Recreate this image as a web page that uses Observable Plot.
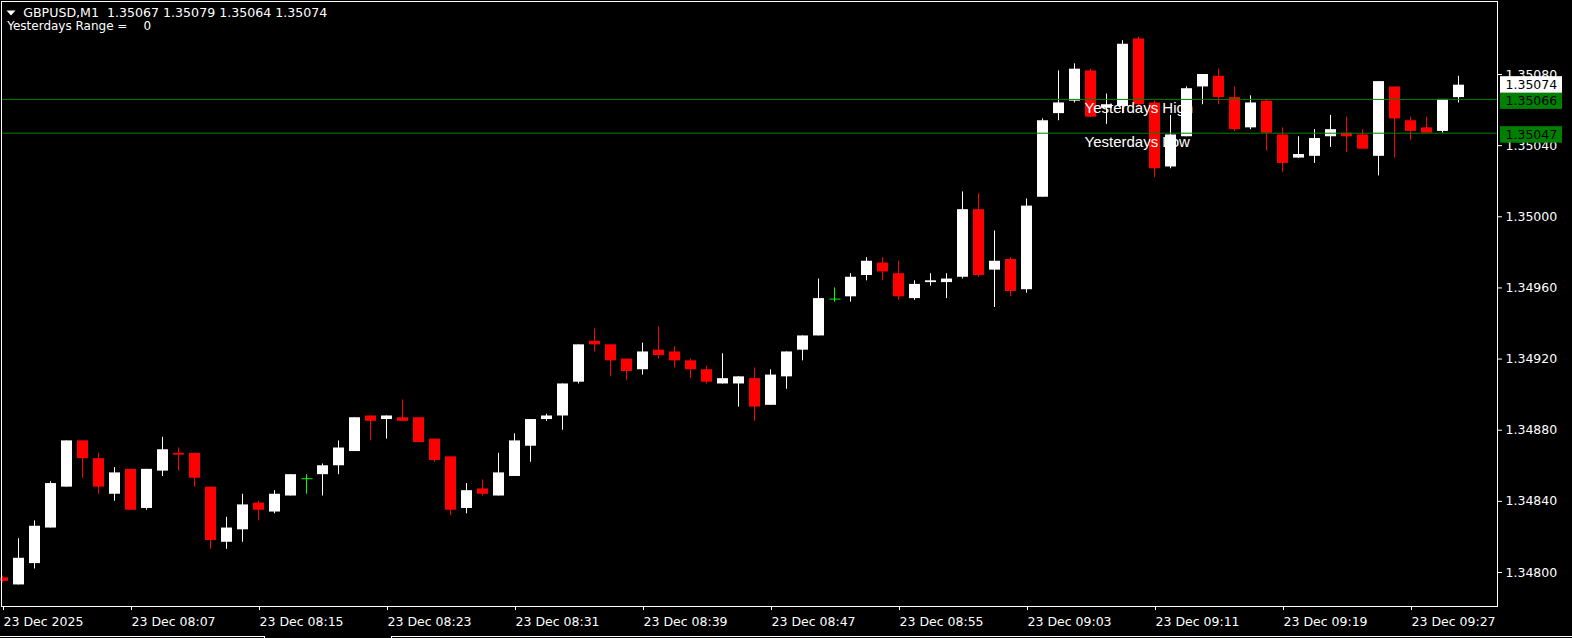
<!DOCTYPE html>
<html><head><meta charset="utf-8">
<script src="https://cdn.jsdelivr.net/npm/d3@7"></script>
<script src="https://cdn.jsdelivr.net/npm/@observablehq/plot@0.6"></script>
<style>
html,body{margin:0;padding:0;background:#000;}
#chart{position:relative;width:1572px;height:638px;background:#000;overflow:hidden;}
#chart svg{display:block;}
.tab{position:absolute;box-sizing:border-box;}
</style></head><body>
<div id="chart"></div>
<script>
// ---------- data ----------
const symbolName = "GBPUSD,M1";
const startTime = "2025-12-23T07:59:00Z"; // first M1 bar
const opens = [1.34797,1.34793,1.34805,1.34825,1.34848,1.34874,1.34864,1.34844,1.34858,1.34836,
1.34857,1.34867,1.34867,1.34848,1.34817,1.34824,1.34839,1.34834,1.34843,1.34853,
1.34855,1.34860,1.34868,1.34888,1.34886,1.34887,1.34887,1.34875,1.34865,1.34836,
1.34847,1.34843,1.34854,1.34871,1.34886,1.34888,1.34907,1.34930,1.34928,1.34920,
1.34914,1.34925,1.34924,1.34919,1.34914,1.34906,1.34906,1.34909,1.34894,1.34910,
1.34925,1.34933,1.34954,1.34955,1.34967,1.34974,1.34968,1.34954,1.34963,1.34963,
1.34966,1.35004,1.34970,1.34976,1.34959,1.35011,1.35058,1.35065,1.35082,1.35061,
1.35062,1.35100,1.35064,1.35028,1.35045,1.35073,1.35079,1.35067,1.35050,1.35065,
1.35046,1.35033,1.35034,1.35045,1.35047,1.35046,1.35034,1.35073,1.35054,1.35050,
1.35048,1.35067];
const highs = [1.34798,1.34819,1.34829,1.34851,1.34874,1.34874,1.34867,1.34859,1.34858,1.34858,
1.34876,1.34870,1.34867,1.34848,1.34831,1.34844,1.34840,1.34846,1.34855,1.34855,
1.34861,1.34874,1.34887,1.34888,1.34888,1.34897,1.34887,1.34875,1.34865,1.34850,
1.34852,1.34867,1.34878,1.34886,1.34889,1.34906,1.34928,1.34937,1.34928,1.34920,
1.34929,1.34938,1.34927,1.34920,1.34916,1.34923,1.34910,1.34915,1.34914,1.34924,
1.34933,1.34965,1.34960,1.34968,1.34977,1.34977,1.34975,1.34964,1.34968,1.34968,
1.35014,1.35013,1.34992,1.34977,1.35010,1.35055,1.35082,1.35086,1.35083,1.35069,
1.35099,1.35101,1.35065,1.35057,1.35073,1.35080,1.35083,1.35073,1.35068,1.35066,
1.35050,1.35045,1.35049,1.35057,1.35056,1.35049,1.35076,1.35073,1.35056,1.35056,
1.35066,1.35079];
const lows = [1.34794,1.34793,1.34802,1.34825,1.34848,1.34853,1.34844,1.34840,1.34835,1.34835,
1.34854,1.34857,1.34848,1.34813,1.34813,1.34817,1.34829,1.34833,1.34843,1.34844,
1.34843,1.34855,1.34868,1.34874,1.34875,1.34885,1.34873,1.34862,1.34832,1.34833,
1.34843,1.34843,1.34854,1.34862,1.34885,1.34880,1.34906,1.34924,1.34910,1.34908,
1.34911,1.34920,1.34915,1.34909,1.34906,1.34906,1.34893,1.34885,1.34894,1.34903,
1.34919,1.34933,1.34952,1.34952,1.34964,1.34964,1.34953,1.34953,1.34961,1.34954,
1.34965,1.34966,1.34949,1.34955,1.34957,1.35011,1.35054,1.35064,1.35056,1.35052,
1.35058,1.35061,1.35022,1.35027,1.35045,1.35063,1.35063,1.35048,1.35049,1.35037,
1.35025,1.35033,1.35030,1.35039,1.35036,1.35038,1.35023,1.35033,1.35043,1.35047,
1.35047,1.35064];
const closes = [1.34795,1.34808,1.34826,1.34850,1.34874,1.34864,1.34848,1.34856,1.34835,1.34858,
1.34869,1.34866,1.34853,1.34818,1.34825,1.34838,1.34835,1.34844,1.34855,1.34853,
1.34860,1.34870,1.34887,1.34885,1.34888,1.34885,1.34873,1.34863,1.34835,1.34846,
1.34844,1.34856,1.34874,1.34886,1.34888,1.34906,1.34928,1.34928,1.34919,1.34913,
1.34924,1.34922,1.34919,1.34914,1.34907,1.34909,1.34910,1.34893,1.34911,1.34924,
1.34933,1.34954,1.34954,1.34966,1.34975,1.34969,1.34955,1.34962,1.34964,1.34965,
1.35004,1.34967,1.34975,1.34958,1.35006,1.35054,1.35064,1.35083,1.35056,1.35063,
1.35097,1.35063,1.35027,1.35046,1.35072,1.35080,1.35067,1.35049,1.35064,1.35047,
1.35030,1.35035,1.35044,1.35049,1.35045,1.35038,1.35076,1.35055,1.35048,1.35047,
1.35066,1.35074];
const priceTicks = [1.34800,1.34840,1.34880,1.34920,1.34960,1.35000,1.35040,1.35080];
const timeTickBars = [0,8,16,24,32,40,48,56,64,72,80,88];
const yesterdayHigh = 1.35066;
const yesterdayLow = 1.35047;
const yesterdaysRange = 0;
const levelLabels = ["Yesterdays High","Yesterdays Low"];
const labelBar = 68;

// ---------- build ----------
const t0 = Date.parse(startTime);
const bars = opens.map((o, i) => ({
  i, date: new Date(t0 + i * 60000), open: o, high: highs[i], low: lows[i], close: closes[i]
}));
const colorOf = d => d.close > d.open ? "#ffffff" : d.close < d.open ? "#ff0000" : "#00ff00";
const bodies = bars.filter(d => d.open !== d.close);
const dojis = bars.filter(d => d.open === d.close);
const fmtTime = d3.utcFormat("%d %b %H:%M");
const tickDates = timeTickBars.map(i => bars[i].date);
const xFmt = d => (+d === +bars[0].date ? d3.utcFormat("%d %b %Y")(d) : fmtTime(d));

const hline = {draw(ctx) { ctx.moveTo(-5.5, 0); ctx.lineTo(5.5, 0); }};
const tri = {draw(ctx) { ctx.moveTo(-4.5, -2.5); ctx.lineTo(4.5, -2.5); ctx.lineTo(0, 2.5); ctx.closePath(); }};

const W = 1572, H = 632;
const AXIS_FS = 12.5;
const ohlcTitle = `${symbolName}  ${[opens.at(-1), highs.at(-1), lows.at(-1), closes.at(-1)].map(d3.format(".5f")).join(" ")}`;

const plot = Plot.plot({
  width: W, height: H,
  marginLeft: 1, marginTop: 1, marginRight: 75, marginBottom: 26,
  style: {background: "#000", color: "#fff", fontFamily: "DejaVu Sans", fontSize: "12px"},
  color: {type: "identity"},
  x: {type: "utc", domain: [bars[0].date, bars[bars.length - 1].date], range: [2, 2 + 16 * (bars.length - 1)]},
  y: {domain: [priceTicks[0], priceTicks[priceTicks.length - 1]], range: [572, 74]},
  marks: [
    Plot.axisY(priceTicks, {anchor: "right", tickSize: 4, tickPadding: 4, textAnchor: "start",
      tickFormat: d3.format(".5f"), stroke: "#fff", fill: "#fff", fontSize: AXIS_FS, label: null}),
    Plot.axisX(tickDates, {anchor: "bottom", tickSize: 4, tickPadding: 6.5, textAnchor: "start", dx: 1,
      tickFormat: xFmt, stroke: "#fff", fill: "#fff", fontSize: AXIS_FS, label: null}),
    Plot.ruleX(bars, {x: "date", y1: "low", y2: "high", stroke: colorOf}),
    Plot.ruleX(bodies, {x: "date", y1: "open", y2: "close", stroke: colorOf, strokeWidth: 11}),
    Plot.dot(dojis, {x: "date", y: "open", symbol: hline, stroke: "#00ff00", fill: "none", strokeWidth: 1, dx: 0.5, dy: 0.5}),
    Plot.ruleY([yesterdayHigh, yesterdayLow], {stroke: "#008000", strokeWidth: 1}),
    Plot.text([yesterdayHigh, yesterdayLow], {x: bars[labelBar].date, y: d => d, text: (d, i) => levelLabels[i],
      textAnchor: "start", lineAnchor: "top", dx: -6, dy: 3, fill: "#fff", fontFamily: "Liberation Sans", fontSize: 15}),
    Plot.dot([0], {frameAnchor: "top-left", dx: 9.5, dy: 11.5, symbol: tri, fill: "#fff", stroke: "none"}),
    Plot.text([ohlcTitle], {frameAnchor: "top-left", dx: 21.7, dy: 7, text: d => d, textAnchor: "start", lineAnchor: "top", fill: "#fff", fontSize: 12.6}),
    Plot.text(["Yesterdays Range ="], {frameAnchor: "top-left", dx: 5.7, dy: 19.8, text: d => d, textAnchor: "start", lineAnchor: "top", fill: "#fff", fontSize: 12}),
    Plot.text([String(yesterdaysRange)], {frameAnchor: "top-left", dx: 142, dy: 19.8, text: d => d, textAnchor: "start", lineAnchor: "top", fill: "#fff", fontSize: 12}),
    Plot.frame({stroke: "#fff"})
  ]
});

// price tags on the right-hand scale
const ys = plot.scale("y");
const svg = d3.select(plot);
const tags = [
  {v: yesterdayHigh, fill: "#008000", shift: 1.5},
  {v: yesterdayLow, fill: "#008000", shift: 1.5},
  {v: closes[closes.length - 1], fill: "#ffffff", shift: -0.5}
];
const g = svg.append("g").attr("text-anchor", "start");
for (const t of tags) {
  const cy = ys.apply(t.v) + t.shift;
  g.append("rect").attr("x", 1500).attr("y", cy - 8).attr("width", 62).attr("height", 16.5).attr("fill", t.fill);
  g.append("text").attr("x", 1505.5).attr("y", cy).attr("dy", "0.36em").attr("fill", "#000")
    .attr("text-anchor", "start").attr("font-family", "DejaVu Sans").attr("font-size", AXIS_FS)
    .text(d3.format(".5f")(t.v));
}

const chart = document.getElementById("chart");
chart.appendChild(plot);
// tab strip under the chart
const strip = [
  {left: 0, width: 265, top: 636, height: 2, css: "border-top:1px solid #fff;border-right:1px solid #fff;"},
  {left: 391, width: 1181, top: 636, height: 2, css: "border-top:1px solid #fff;border-left:1px solid #fff;"}
];
for (const s of strip) {
  const d = document.createElement("div");
  d.className = "tab";
  d.style.cssText = `left:${s.left}px;top:${s.top}px;width:${s.width}px;height:${s.height}px;${s.css}`;
  chart.appendChild(d);
}
</script>
</body></html>
